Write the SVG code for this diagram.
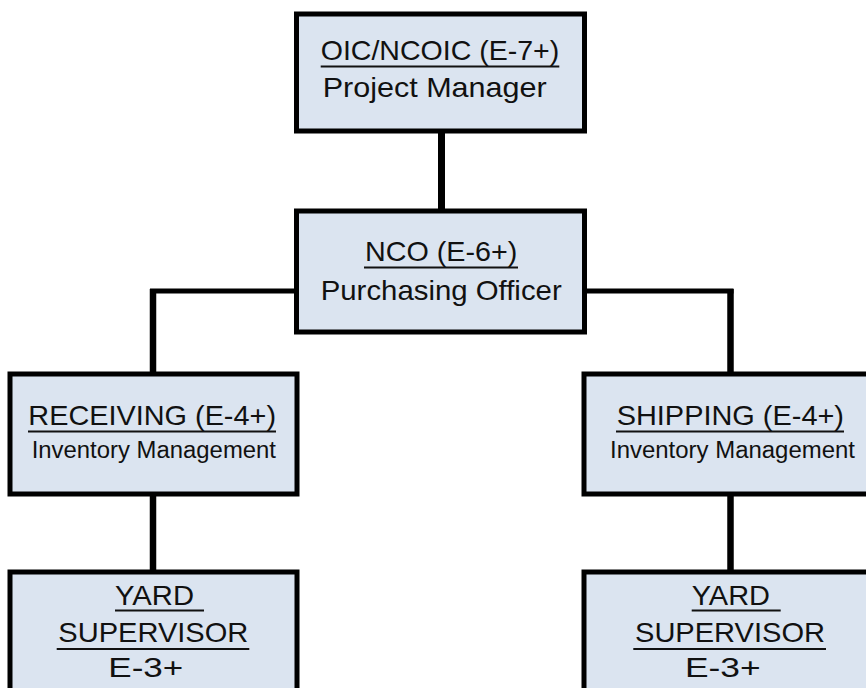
<svg xmlns="http://www.w3.org/2000/svg" width="866" height="688" viewBox="0 0 866 688">
<style>
.box{fill:#dbe4f0;stroke:#000;stroke-width:5}
.t{font-family:"Liberation Sans",Arial,sans-serif;font-size:28px;fill:#111}
.s{font-family:"Liberation Sans",Arial,sans-serif;font-size:23px;fill:#111}
.u{stroke:#111;stroke-width:2}
.c{stroke:#000;fill:none}
</style>
<rect width="866" height="688" fill="#fff"/>
<g id="connectors">
<line class="c" x1="441.5" y1="130" x2="441.5" y2="211" stroke-width="7"/>
<line class="c" x1="150" y1="291" x2="297" y2="291" stroke-width="5"/>
<line class="c" x1="584" y1="291" x2="733.5" y2="291" stroke-width="5"/>
<line class="c" x1="153" y1="289" x2="153" y2="374" stroke-width="6.5"/>
<line class="c" x1="730.5" y1="289" x2="730.5" y2="374" stroke-width="6.5"/>
<line class="c" x1="153" y1="494" x2="153" y2="572" stroke-width="6.5"/>
<line class="c" x1="730.5" y1="494" x2="730.5" y2="572" stroke-width="6.5"/>
</g>
<g id="oic">
<rect class="box" x="296.5" y="14" width="288" height="117"/>
<text class="t" x="320.7" y="60" textLength="238.6" lengthAdjust="spacingAndGlyphs">OIC/NCOIC (E-7+)</text>
<line class="u" x1="320.7" y1="66.5" x2="559.3" y2="66.5"/>
<text class="t" x="322.7" y="96.5" textLength="224" lengthAdjust="spacingAndGlyphs">Project Manager</text>
</g>
<g id="nco">
<rect class="box" x="296.5" y="211" width="288" height="121"/>
<text class="t" x="365" y="260.5" textLength="152.3" lengthAdjust="spacingAndGlyphs">NCO (E-6+)</text>
<line class="u" x1="364" y1="267.5" x2="518" y2="267.5"/>
<text class="t" x="320.7" y="300" textLength="241" lengthAdjust="spacingAndGlyphs">Purchasing Officer</text>
</g>
<g id="receiving">
<rect class="box" x="10" y="374" width="287" height="120"/>
<text class="t" x="28.3" y="425" textLength="247.7" lengthAdjust="spacingAndGlyphs">RECEIVING (E-4+)</text>
<line class="u" x1="28" y1="431.5" x2="276" y2="431.5"/>
<text class="s" x="31.7" y="458.3" textLength="244.3" lengthAdjust="spacingAndGlyphs">Inventory Management</text>
</g>
<g id="shipping">
<rect class="box" x="584" y="374" width="300" height="120"/>
<text class="t" x="616.7" y="425" textLength="227.3" lengthAdjust="spacingAndGlyphs">SHIPPING (E-4+)</text>
<line class="u" x1="616" y1="431.5" x2="844" y2="431.5"/>
<text class="s" x="610" y="458.3" textLength="245" lengthAdjust="spacingAndGlyphs">Inventory Management</text>
</g>
<g id="yard-left">
<rect class="box" x="10" y="572" width="287" height="130"/>
<text class="t" x="115" y="605" textLength="79" lengthAdjust="spacingAndGlyphs">YARD</text>
<line class="u" x1="115" y1="610.5" x2="204" y2="610.5"/>
<text class="t" x="58.3" y="641.7" textLength="190" lengthAdjust="spacingAndGlyphs">SUPERVISOR</text>
<line class="u" x1="56.7" y1="649" x2="249.3" y2="649"/>
<text class="t" x="108.3" y="676.7" textLength="75" lengthAdjust="spacingAndGlyphs">E-3+</text>
</g>
<g id="yard-right">
<rect class="box" x="584" y="572" width="300" height="130"/>
<text class="t" x="691.7" y="605" textLength="78.3" lengthAdjust="spacingAndGlyphs">YARD</text>
<line class="u" x1="691.7" y1="610.5" x2="780.7" y2="610.5"/>
<text class="t" x="635" y="641.7" textLength="190" lengthAdjust="spacingAndGlyphs">SUPERVISOR</text>
<line class="u" x1="633.3" y1="649" x2="826" y2="649"/>
<text class="t" x="685" y="676.7" textLength="75.7" lengthAdjust="spacingAndGlyphs">E-3+</text>
</g>
</svg>
